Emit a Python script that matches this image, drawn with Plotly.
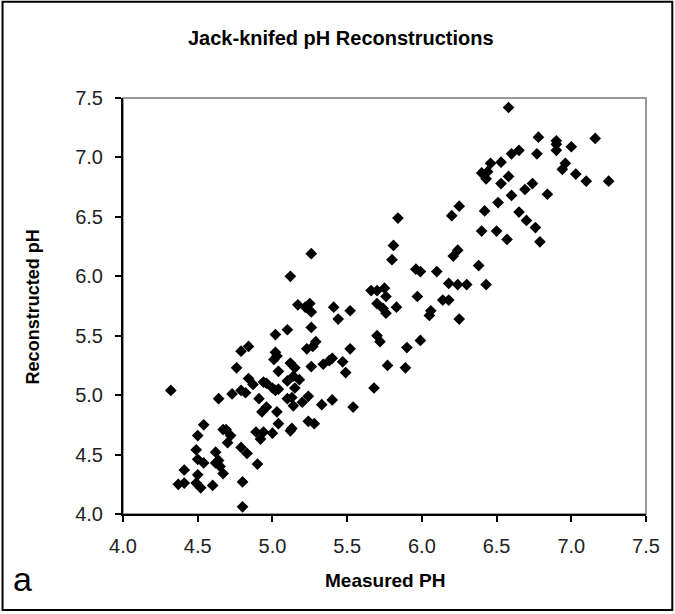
import plotly.graph_objects as go

# Measured pH (x) and jack-knifed reconstructed pH (y)
measured_ph = [
    4.80, 4.37, 4.41, 4.49, 4.52, 4.60, 4.80, 4.41, 4.50, 4.67,
    4.50, 4.54, 4.62, 4.64, 4.65, 4.62, 4.49, 4.54, 4.50, 4.67,
    4.69, 4.72, 4.70, 4.79, 4.83, 4.90, 4.89, 4.94, 4.92, 5.00,
    5.04, 5.12, 5.13, 5.24, 5.28,
    4.32, 4.64, 4.73, 4.79, 4.82, 4.76, 4.79, 4.84, 4.84, 4.87,
    4.94, 4.96, 4.91, 4.96, 4.93, 5.03, 5.02, 5.10, 5.26, 5.02,
    5.03, 5.01, 5.04, 5.12, 5.15, 5.26, 5.29, 5.27, 5.23, 5.14,
    5.18, 5.10, 5.00, 5.02, 5.04, 5.15, 5.10, 5.13, 5.14, 5.20,
    5.24, 5.33, 5.40, 5.54, 5.68, 5.38, 5.40, 5.34, 5.47, 5.52,
    5.49, 5.70, 5.72, 5.77, 5.89, 5.90, 5.99, 5.17, 5.25, 5.22,
    5.26, 5.41, 5.44, 5.52, 5.26, 5.12, 5.66, 5.70, 5.75, 5.76,
    5.70, 5.74, 5.76, 5.83, 5.97, 6.14, 6.18, 6.06, 6.05, 6.25,
    6.18, 6.24, 6.30, 6.43, 6.38, 5.96, 5.99, 6.10, 5.84, 5.81,
    5.80, 6.24, 6.21, 6.20, 6.25,
    6.58, 6.78, 6.90, 6.90, 6.90, 7.00, 7.16, 6.77, 6.65, 6.60,
    6.53, 6.46, 6.40, 6.44, 6.43, 6.58, 6.53, 6.96, 6.94, 7.03,
    7.10, 7.25, 6.74, 6.69, 6.84, 6.60, 6.51, 6.42, 6.65, 6.70,
    6.76, 6.40, 6.50, 6.57, 6.79,
]
reconstructed_ph = [
    4.06, 4.25, 4.26, 4.26, 4.22, 4.24, 4.27, 4.37, 4.33, 4.34,
    4.46, 4.43, 4.43, 4.45, 4.40, 4.52, 4.54, 4.75, 4.66, 4.71,
    4.71, 4.66, 4.60, 4.56, 4.51, 4.42, 4.69, 4.69, 4.63, 4.68,
    4.76, 4.70, 4.72, 4.78, 4.76,
    5.04, 4.97, 5.01, 5.04, 5.02, 5.23, 5.37, 5.41, 5.14, 5.09,
    5.11, 5.10, 4.97, 4.90, 4.86, 4.86, 5.51, 5.55, 5.57, 5.36,
    5.33, 5.30, 5.20, 5.27, 5.23, 5.24, 5.45, 5.41, 5.39, 5.16,
    5.13, 5.12, 5.06, 5.04, 5.05, 5.06, 4.97, 4.98, 4.91, 4.94,
    4.99, 4.92, 4.96, 4.90, 5.06, 5.29, 5.31, 5.26, 5.28, 5.39,
    5.19, 5.50, 5.45, 5.25, 5.23, 5.40, 5.46, 5.76, 5.77, 5.74,
    5.70, 5.74, 5.64, 5.71, 6.19, 6.00, 5.88, 5.88, 5.90, 5.83,
    5.77, 5.73, 5.69, 5.74, 5.83, 5.80, 5.80, 5.71, 5.67, 5.64,
    5.94, 5.93, 5.93, 5.93, 6.09, 6.06, 6.04, 6.04, 6.49, 6.26,
    6.14, 6.22, 6.17, 6.51, 6.59,
    7.42, 7.17, 7.14, 7.11, 7.06, 7.09, 7.16, 7.03, 7.06, 7.03,
    6.96, 6.95, 6.87, 6.88, 6.82, 6.84, 6.78, 6.95, 6.90, 6.86,
    6.80, 6.80, 6.78, 6.73, 6.69, 6.68, 6.62, 6.55, 6.54, 6.47,
    6.41, 6.38, 6.38, 6.31, 6.29,
]

title_text = "Jack-knifed pH Reconstructions"
x_title = "Measured PH"
y_title = "Reconstructed pH"
panel_label = "a"
tick_vals = [4.0, 4.5, 5.0, 5.5, 6.0, 6.5, 7.0, 7.5]

W, H = 675, 614
ML, MR, MT, MB = 122.5, 29.3, 98.3, 100
PW, PH = W - ML - MR, H - MT - MB
FONT = "Liberation Sans, Arial"

def px_to_paper_x(px):
    return (px - ML) / PW

def px_to_paper_y(py):
    return (H - MB - py) / PH

fig = go.Figure()
fig.add_trace(go.Scatter(
    x=measured_ph, y=reconstructed_ph, mode="markers",
    marker=dict(symbol="diamond", size=9, color="black", line=dict(width=0)),
    showlegend=False, cliponaxis=False,
))

axis_common = dict(
    range=[4.0, 7.5], tickvals=tick_vals, tickformat=".1f",
    showgrid=False, zeroline=False, showline=True, linecolor="black", linewidth=2,
    ticks="outside", ticklen=6, tickwidth=2, tickcolor="black",
    tickfont=dict(family=FONT, size=20, color="#222222"),
)

fig.update_layout(
    width=W, height=H,
    margin=dict(l=ML, r=MR, t=MT, b=MB, pad=0),
    paper_bgcolor="white", plot_bgcolor="white",
    xaxis=dict(axis_common, ticklabelstandoff=7),
    yaxis=dict(axis_common, ticklabelstandoff=8),
    font=dict(family=FONT),
)

# plot area frame (grey top/right), outer chart border
fig.add_shape(type="rect", xref="paper", yref="paper", x0=0, x1=1, y0=0, y1=1,
              line=dict(color="#999999", width=2), layer="below")
fig.add_shape(type="rect", xref="paper", yref="paper",
              x0=px_to_paper_x(2), x1=px_to_paper_x(672),
              y0=px_to_paper_y(610), y1=px_to_paper_y(2),
              line=dict(color="black", width=2))

fig.add_annotation(text="<b>" + title_text + "</b>", xref="paper", yref="paper",
                   x=px_to_paper_x(341), y=px_to_paper_y(38), showarrow=False,
                   xanchor="center", yanchor="middle",
                   font=dict(family=FONT, size=20, color="black"))
fig.add_annotation(text="<b>" + x_title + "</b>", xref="paper", yref="paper",
                   x=px_to_paper_x(385), y=px_to_paper_y(580), showarrow=False,
                   xanchor="center", yanchor="middle",
                   font=dict(family=FONT, size=19, color="black"))
fig.add_annotation(text="<b>" + y_title + "</b>", xref="paper", yref="paper",
                   x=px_to_paper_x(32), y=px_to_paper_y(307), showarrow=False,
                   textangle=-90, xanchor="center", yanchor="middle",
                   font=dict(family=FONT, size=18, color="black"))
fig.add_annotation(text=panel_label, xref="paper", yref="paper",
                   x=px_to_paper_x(22), y=px_to_paper_y(579), showarrow=False,
                   xanchor="center", yanchor="middle",
                   font=dict(family=FONT, size=34, color="black"))

fig.write_html("out.html")
